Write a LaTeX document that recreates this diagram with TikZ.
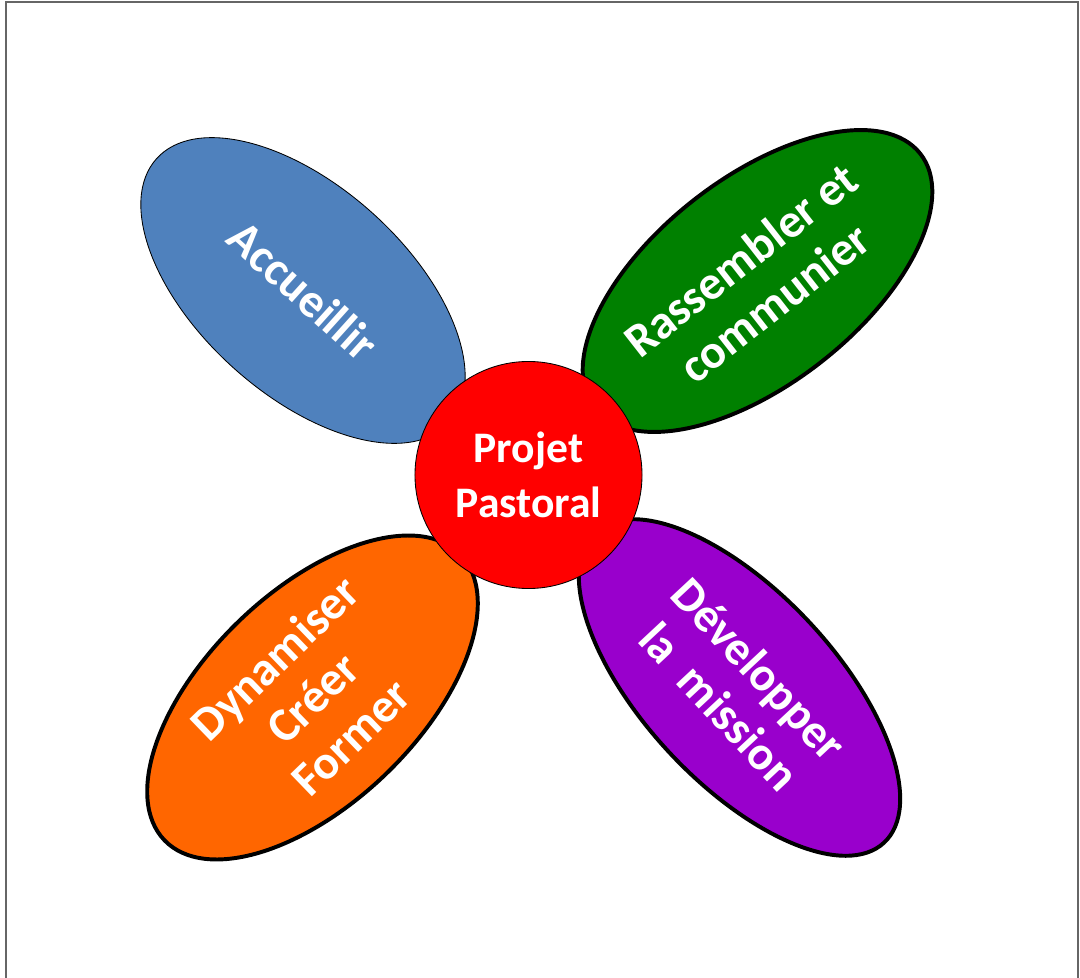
\documentclass[tikz,border=0pt]{standalone}
\usepackage{fontspec}
\setmainfont{Carlito}
\usetikzlibrary{shapes.geometric}
\definecolor{accblue}{RGB}{79,129,189}
\definecolor{rasgreen}{RGB}{0,128,0}
\definecolor{dynorange}{RGB}{255,102,0}
\definecolor{devpurple}{RGB}{153,0,204}
\begin{document}
\begin{tikzpicture}[x=0.025cm,y=-0.025cm]

    \tikzset{
      petal/.style={
        ellipse,
        draw=black,
        line width=2.8pt,
        inner sep=-6mm,
        text=white,
        align=center,
        font=\fontsize{34}{39}\selectfont\bfseries,
      },
      hub/.style={
        circle,
        draw=black,
        line width=0.6pt,
        fill=red,
        inner sep=0pt,
        minimum size=5.675cm,
        text=white,
        align=center,
        font=\fontsize{31}{39}\selectfont\bfseries,
      },
    }
    \useasboundingbox (0,0) rectangle (1080,978);
    \clip (0,0) rectangle (1080,978);
    \draw[color={black!60}, line width=1.4pt] (6,2) rectangle (1078,1000);

    \node[petal, fill=accblue, line width=0.6pt, minimum width=9.85cm, minimum height=5.2cm, rotate=-42] (accueillir) at (303,290.5) {Accueillir};
    \node[petal, fill=rasgreen, minimum width=10.33cm, minimum height=5.15cm, rotate=38] (rassembler) at (757.5,281) {Rassembler et\\communier};
    \node[petal, fill=dynorange, minimum width=10.28cm, minimum height=5.3cm, rotate=44] (dynamiser) at (312.5,697.5) {Dynamiser\\Cr\'eer\\Former};
    \node[petal, fill=devpurple, minimum width=10.6cm, minimum height=4.78cm, rotate=-47] (developper) at (739.5,687.5) {D\'evelopper\\la~~mission};

    \node[hub] (projet) at (528.5,475) {Projet\\Pastoral};

\end{tikzpicture}
\end{document}
